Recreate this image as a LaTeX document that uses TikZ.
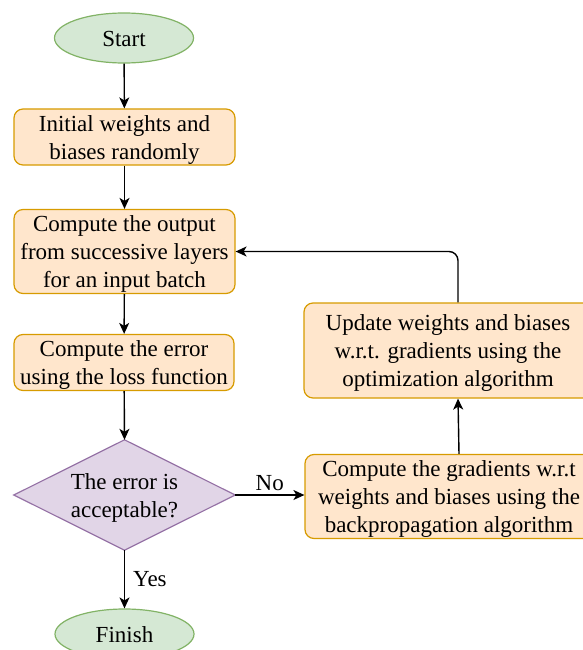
\documentclass[tikz,border=0pt]{standalone}
\usepackage{fontspec}
\setmainfont{Liberation Serif}
\usetikzlibrary{shapes.geometric,arrows.meta}
\definecolor{orfill}{HTML}{FFE6CC}
\definecolor{orline}{HTML}{D79B00}
\definecolor{grfill}{HTML}{D5E8D4}
\definecolor{grline}{HTML}{82B366}
\definecolor{pufill}{HTML}{E1D5E7}
\definecolor{puline}{HTML}{9673A6}
\newcommand{\lowtxt}[1]{\raisebox{-2.5pt}[\height][\depth]{\begin{tabular}{@{}c@{}}#1\end{tabular}}}
\begin{document}
\begin{tikzpicture}[x=1pt,y=1pt,
  txt/.style={font=\fontsize{23}{28}\selectfont, text=black},
  proc/.style={txt, rectangle, rounded corners=9pt, draw=orline, fill=orfill, line width=1.2pt, align=center, inner sep=0pt},
  term/.style={txt, ellipse, draw=grline, fill=grfill, line width=1.2pt, inner sep=0pt},
  decbox/.style={txt, rectangle, align=center, inner sep=0pt},
  arr/.style={-{Stealth[length=11pt,width=10pt,inset=3pt]}, line width=1.4pt, black},
  lbl/.style={txt, inner sep=0pt}
]
\useasboundingbox (0,0) rectangle (582,-650);

\node[term, minimum width=139pt, minimum height=50pt] (start) at (124,-38) {\lowtxt{Start}};
\node[proc, minimum width=221pt, minimum height=54pt] (init) at (124.5,-137) {\lowtxt{Initial weights and\\biases randomly}};
\node[proc, minimum width=221pt, minimum height=83pt] (out) at (124.5,-251.5) {\lowtxt{Compute the output\\from successive layers\\for an input batch}};
\node[proc, minimum width=220pt, minimum height=55pt] (err) at (124,-362.5) {\lowtxt{Compute the error\\using the loss function}};
\node[decbox, minimum width=221pt, minimum height=110pt] (dec) at (124.5,-495) {};
\fill[pufill] (dec.west) -- (dec.north) -- (dec.east) -- (dec.south) -- cycle;
\draw[puline, line width=1.2pt, line join=miter] (dec.west) -- (dec.north) -- (dec.east) -- (dec.south) -- cycle;
\node[decbox] (dectext) at ([yshift=-2.5pt]dec.center) {The error is\\acceptable?};
\node[term, minimum width=139pt, minimum height=50pt] (fin) at (124.5,-634) {\lowtxt{Finish}};
\node[proc, minimum width=288pt, minimum height=83pt] (grad) at (449,-496.5) {\lowtxt{Compute the gradients w.r.t\\weights and biases using the\\backpropagation algorithm}};
\node[proc, minimum width=288pt, minimum height=95pt] (upd) at (448,-350.5) {\lowtxt{Update weights and biases\\w.r.t. gradients using the\\optimization algorithm}};

\draw[arr] (start) -- (init);
\draw[arr] (init) -- (out);
\draw[arr] (out) -- (err);
\draw[arr] (err) -- (dec.north);
\draw[arr] (dec.south) -- (fin) node[lbl, pos=0.5, right=8pt] {Yes};
\draw[arr] (dec.east) -- (dec.east -| grad.west) node[lbl, pos=0.5, above=4pt] {No};
\draw[arr] ([xshift=10pt]grad.north) -- ([xshift=10pt]upd.south);
\draw[arr, rounded corners=9pt] ([xshift=10pt]upd.north) |- (out.east);
\end{tikzpicture}
\end{document}
